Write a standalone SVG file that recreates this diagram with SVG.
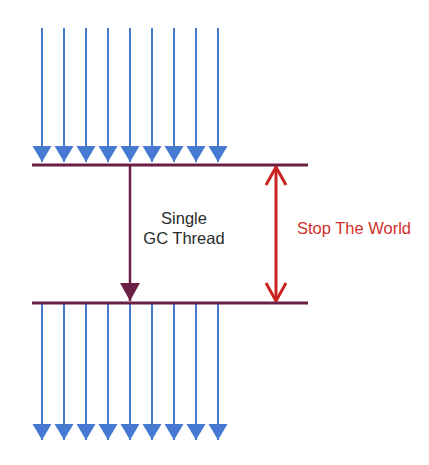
<svg xmlns="http://www.w3.org/2000/svg" width="429" height="465" viewBox="0 0 429 465">
<style>
.blue{stroke:#4679d2;stroke-width:2;fill:none}
.bar{stroke:#6b1f45;stroke-width:3;fill:none}
.gc{stroke:#6b1f45;stroke-width:2.5;fill:none}
.stw{stroke:#c9241f;stroke-width:3;fill:none}
.lbl{font-family:"Liberation Sans",Arial,sans-serif;font-size:16.5px;fill:#2b2b2b}
.red{font-family:"Liberation Sans",Arial,sans-serif;font-size:16.5px;fill:#d0312b}
</style>
<defs>
<marker id="mb" markerUnits="userSpaceOnUse" markerWidth="18" markerHeight="20" refX="16" refY="9.5" orient="auto" viewBox="0 0 18 20">
<path d="M0,0 L16,9.5 L0,19 z" fill="#4679d2"/>
</marker>
<marker id="mm" markerUnits="userSpaceOnUse" markerWidth="20" markerHeight="22" refX="18" refY="10" orient="auto" viewBox="0 0 20 22">
<path d="M0,0 L18,10 L0,20 z" fill="#6b1f45"/>
</marker>
<marker id="mr" markerUnits="userSpaceOnUse" markerWidth="24" markerHeight="24" refX="19" refY="11" orient="auto-start-reverse" viewBox="0 0 24 24">
<path d="M1,1 L19,11 L1,21" fill="none" stroke="#c9241f" stroke-width="3"/>
</marker>
</defs>
<g id="connectors">
<g id="incoming">
<line class="blue" x1="42" y1="28" x2="42" y2="162" marker-end="url(#mb)"/>
<line class="blue" x1="64" y1="28" x2="64" y2="162" marker-end="url(#mb)"/>
<line class="blue" x1="86" y1="28" x2="86" y2="162" marker-end="url(#mb)"/>
<line class="blue" x1="108" y1="28" x2="108" y2="162" marker-end="url(#mb)"/>
<line class="blue" x1="130" y1="28" x2="130" y2="162" marker-end="url(#mb)"/>
<line class="blue" x1="152" y1="28" x2="152" y2="162" marker-end="url(#mb)"/>
<line class="blue" x1="174" y1="28" x2="174" y2="162" marker-end="url(#mb)"/>
<line class="blue" x1="196" y1="28" x2="196" y2="162" marker-end="url(#mb)"/>
<line class="blue" x1="218" y1="28" x2="218" y2="162" marker-end="url(#mb)"/>
</g>
<g id="outgoing">
<line class="blue" x1="42" y1="304" x2="42" y2="440" marker-end="url(#mb)"/>
<line class="blue" x1="64" y1="304" x2="64" y2="440" marker-end="url(#mb)"/>
<line class="blue" x1="86" y1="304" x2="86" y2="440" marker-end="url(#mb)"/>
<line class="blue" x1="108" y1="304" x2="108" y2="440" marker-end="url(#mb)"/>
<line class="blue" x1="130" y1="304" x2="130" y2="440" marker-end="url(#mb)"/>
<line class="blue" x1="152" y1="304" x2="152" y2="440" marker-end="url(#mb)"/>
<line class="blue" x1="174" y1="304" x2="174" y2="440" marker-end="url(#mb)"/>
<line class="blue" x1="196" y1="304" x2="196" y2="440" marker-end="url(#mb)"/>
<line class="blue" x1="218" y1="304" x2="218" y2="440" marker-end="url(#mb)"/>
</g>
<line id="gc-thread" class="gc" x1="130" y1="166" x2="130" y2="301" marker-end="url(#mm)"/>
<line id="stop-the-world" class="stw" x1="276" y1="167" x2="276" y2="301" marker-start="url(#mr)" marker-end="url(#mr)"/>
</g>
<g id="safepoint-start"><line class="bar" x1="32" y1="165" x2="308" y2="165"/></g>
<g id="safepoint-end"><line class="bar" x1="32" y1="303" x2="308" y2="303"/></g>
<g id="gc-label">
<text class="lbl" x="184" y="224" text-anchor="middle">Single</text>
<text class="lbl" x="184" y="244" text-anchor="middle">GC Thread</text>
</g>
<g id="stw-label"><text class="red" x="297" y="234">Stop The World</text></g>
</svg>
